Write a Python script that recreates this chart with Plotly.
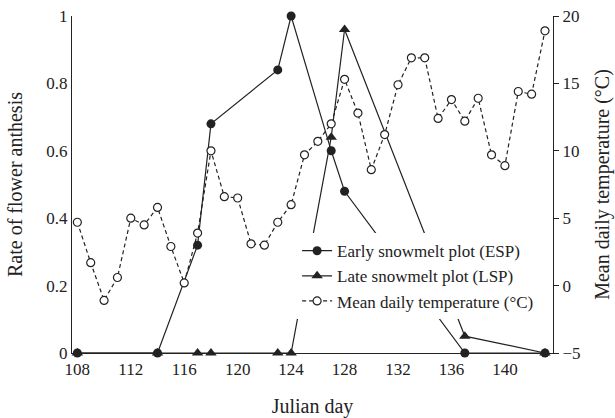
import plotly.graph_objects as go

# Data
esp_days = [108, 114, 117, 118, 123, 124, 127, 128, 137, 143]
esp_rate = [0, 0, 0.32, 0.68, 0.84, 1.0, 0.60, 0.48, 0, 0]

lsp_days = [108, 114, 117, 118, 123, 124, 127, 128, 137, 143]
lsp_rate = [0, 0, 0, 0, 0, 0, 0.64, 0.96, 0.05, 0]

temp_days = list(range(108, 144))
temp_vals = [4.7, 1.7, -1.1, 0.6, 5.0, 4.5, 5.8, 2.9, 0.2, 3.9,
             10.0, 6.6, 6.5, 3.1, 3.0, 4.7, 6.0, 9.7, 10.7, 12.0,
             15.3, 12.8, 8.6, 11.2, 14.9, 16.9, 16.9, 12.4, 13.8, 12.2,
             13.9, 9.7, 8.9, 14.4, 14.2, 18.9]

x_ticks = [108, 112, 116, 120, 124, 128, 132, 136, 140]
y_ticks = [0, 0.2, 0.4, 0.6, 0.8, 1.0]
y_ticktext = ["0", "0.2", "0.4", "0.6", "0.8", "1"]
y2_ticks = [-5, 0, 5, 10, 15, 20]

INK = "#222"
FONT = "Liberation Serif"

fig = go.Figure()
fig.add_trace(go.Scatter(
    x=esp_days, y=esp_rate, name="Early snowmelt plot (ESP)",
    mode="lines+markers", line=dict(color=INK, width=1.2),
    marker=dict(symbol="circle", size=9, color=INK), cliponaxis=False))
fig.add_trace(go.Scatter(
    x=lsp_days, y=lsp_rate, name="Late snowmelt plot (LSP)",
    mode="lines+markers", line=dict(color=INK, width=1.2),
    marker=dict(symbol="triangle-up", size=10, color=INK), cliponaxis=False))
fig.add_trace(go.Scatter(
    x=temp_days, y=temp_vals, name="Mean daily temperature (°C)", yaxis="y2",
    mode="lines+markers", line=dict(color=INK, width=1.2, dash="4px,3px"),
    marker=dict(symbol="circle", size=8, color="white", line=dict(color=INK, width=1.2)),
    cliponaxis=False))

fig.update_layout(
    width=615, height=418,
    margin=dict(l=72, r=62, t=16, b=65),
    plot_bgcolor="white", paper_bgcolor="white",
    font=dict(family=FONT, size=17, color=INK),
    showlegend=True,
    legend=dict(x=0.468, y=0.228, xanchor="left", yanchor="middle",
                bgcolor="white", borderwidth=0, font=dict(size=17),
                tracegroupgap=0, itemwidth=30),
    xaxis=dict(range=[107.6, 143.6], tickvals=x_ticks, showgrid=False, zeroline=False,
               showline=True, linecolor=INK, linewidth=1.2, ticks="", automargin=False,
               title=dict(text="Julian day", standoff=21)),
    yaxis=dict(range=[0, 1], tickvals=y_ticks, ticktext=y_ticktext, showgrid=False,
               zeroline=False, showline=True, linecolor=INK, linewidth=1.2, ticks="",
               automargin=False, ticklabeloverflow="allow",
               title=dict(text="Rate of flower anthesis", standoff=18)),
    yaxis2=dict(range=[-5, 20], tickvals=y2_ticks, overlaying="y", side="right",
                showgrid=False, zeroline=False, showline=True, linecolor=INK, linewidth=1.2,
                ticks="outside", ticklen=5, tickcolor=INK, automargin=False,
                ticklabeloverflow="allow",
                title=dict(text="Mean daily temperature (°C)", standoff=15)),
)

fig.write_html("out.html", config={"displayModeBar": False},
               post_script="document.body.style.margin='0px';")
